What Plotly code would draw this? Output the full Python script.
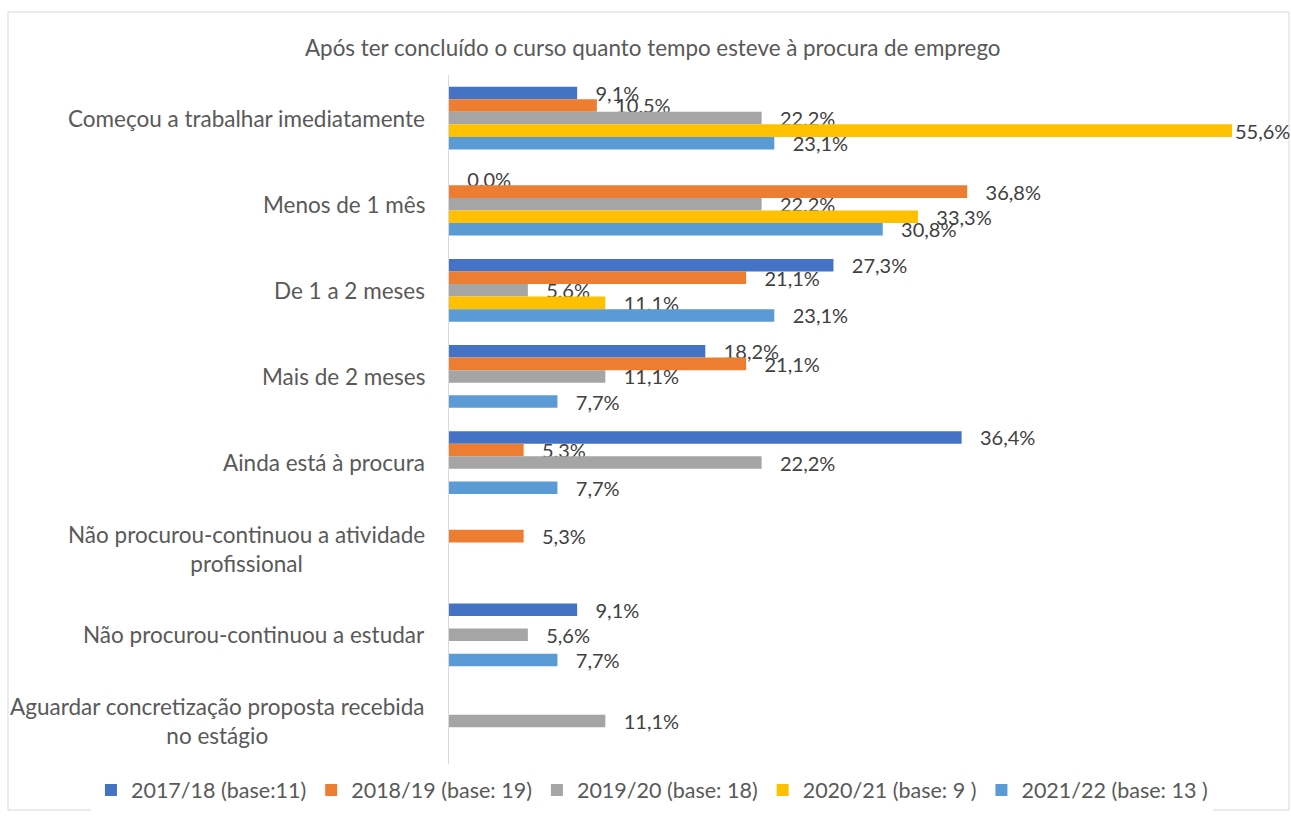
import plotly.graph_objects as go

W, H = 1291, 819

categories = [
    "Começou a trabalhar imediatamente",
    "Menos de 1 mês",
    "De 1 a 2 meses",
    "Mais de 2 meses",
    "Ainda está à procura",
    "Não procurou-continuou a atividade profissional",
    "Não procurou-continuou a estudar",
    "Aguardar concretização proposta recebida no estágio",
]
category_labels = [
    "Começou a trabalhar imediatamente",
    "Menos de 1 mês",
    "De 1 a 2 meses",
    "Mais de 2 meses",
    "Ainda está à procura",
    "Não procurou-continuou a atividade<br>profissional",
    "Não procurou-continuou a estudar",
    "Aguardar concretização proposta recebida<br>no estágio",
]

series_names = [
    "2017/18 (base:11)",
    "2018/19 (base: 19)",
    "2019/20 (base: 18)",
    "2020/21 (base: 9 )",
    "2021/22 (base: 13 )",
]
s2017_18 = [9.1, 0.0, 27.3, 18.2, 36.4, None, 9.1, None]
s2018_19 = [10.5, 36.8, 21.1, 21.1, 5.3, 5.3, None, None]
s2019_20 = [22.2, 22.2, 5.6, 11.1, 22.2, None, 5.6, 11.1]
s2020_21 = [55.6, 33.3, 11.1, None, None, None, None, None]
s2021_22 = [23.1, 30.8, 23.1, 7.7, 7.7, None, 7.7, None]
series_values = [s2017_18, s2018_19, s2019_20, s2020_21, s2021_22]
colors = ["#4472C4", "#ED7D31", "#A5A5A5", "#FFC000", "#5B9BD5"]

title = "Após ter concluído o curso quanto tempo esteve à procura de emprego"

FONT = "Lato"
xmax = max(v for s in series_values for v in s if v is not None)


def fmt(v):
    if v is None:
        return ""
    s = f"{v:.1f}".replace(".", ",") + "%"
    pad = "" if v >= xmax else "\u00a0\u00a0\u00a0"
    return pad + s


fig = go.Figure()
for name, vals, col in zip(series_names, series_values, colors):
    fig.add_trace(go.Bar(
        name=name, y=categories, x=vals, orientation="h",
        marker=dict(color=col, line=dict(width=0)),
        text=[fmt(v) for v in vals], textposition="outside",
        constraintext="none", cliponaxis=False,
        textfont=dict(family=FONT, size=20, color="#404040"),
        hoverinfo="skip",
    ))

x0px, x1px = 449, 1232
ytop, ybot = 75, 764
fig.update_layout(
    width=W, height=H, autosize=False,
    margin=dict(l=0, r=0, t=0, b=0),
    paper_bgcolor="white", plot_bgcolor="white",
    barmode="group", bargap=0.27, bargroupgap=0,
    separators=",.",
    font=dict(family=FONT, size=20, color="#595959"),
    xaxis=dict(domain=[x0px / W, x1px / W], range=[0, xmax],
               showgrid=False, zeroline=False, showticklabels=False,
               showline=False, fixedrange=True),
    yaxis=dict(domain=[1 - ybot / H, 1 - ytop / H], autorange="reversed",
               showticklabels=False, showgrid=False, zeroline=False,
               showline=True, linecolor="#D9D9D9", linewidth=1,
               ticks="", fixedrange=True),
    showlegend=True,
    legend=dict(orientation="h", x=0.505, xanchor="center",
                y=1 - 790 / H, yanchor="middle",
                font=dict(family=FONT, size=21.5, color="#595959"),
                itemwidth=30, traceorder="normal"),
)

for cat, lab in zip(categories, category_labels):
    fig.add_annotation(
        x=x0px / W, xref="paper", y=cat, yref="y",
        text=lab, showarrow=False, xanchor="right", yanchor="middle",
        xshift=-22, align="center",
        font=dict(family=FONT, size=22.5, color="#595959"),
    )

fig.add_annotation(
    x=0.506, xref="paper", y=1 - 47 / H, yref="paper",
    text=title, showarrow=False, xanchor="center", yanchor="middle",
    font=dict(family=FONT, size=22.4, color="#595959"),
)

fig.add_shape(type="rect", xref="paper", yref="paper",
              x0=8 / W, x1=1289 / W, y0=1 - 810 / H, y1=1 - 12 / H,
              line=dict(color="#D9D9D9", width=1), fillcolor="rgba(0,0,0,0)",
              layer="below")

fig.write_html("out.html", config={"displayModeBar": False},
               post_script="document.body.style.margin='0';")
